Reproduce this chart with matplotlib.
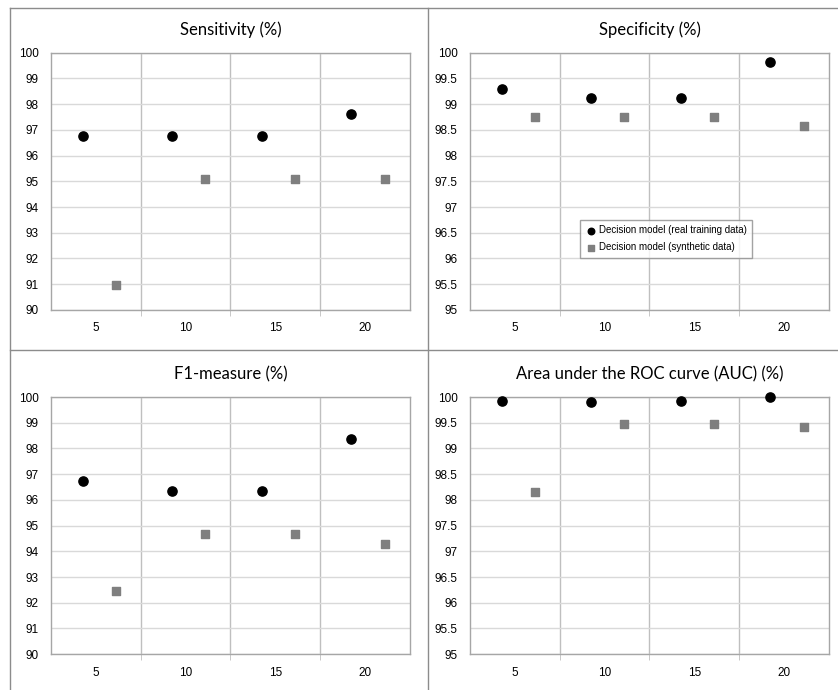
"""
plot.py - decision model scores (real vs synthetic training data), 2x2 panel.
"""

import matplotlib
matplotlib.use("Agg")
import matplotlib.pyplot as plt
from matplotlib.lines import Line2D

plt.rcParams["font.family"] = ["Liberation Sans", "DejaVu Sans"]


# ---------------------------------------------------------------------------
# Data
# ---------------------------------------------------------------------------

categories = ["5", "10", "15", "20"]

sens_real = [96.77, 96.77, 96.77, 97.60]
sens_synth = [90.97, 95.08, 95.08, 95.08]

spec_real = [99.29, 99.12, 99.12, 99.83]
spec_synth = [98.75, 98.75, 98.75, 98.58]

f1_real = [96.74, 96.34, 96.34, 98.37]
f1_synth = [92.46, 94.69, 94.69, 94.29]

auc_real = [99.92, 99.90, 99.92, 100.0]
auc_synth = [98.15, 99.48, 99.48, 99.41]

label_real = "Decision model (real training data)"
label_synth = "Decision model (synthetic data)"


# ---------------------------------------------------------------------------
# Panel
# ---------------------------------------------------------------------------

def panel(fig, rect, title, real, synth, ymin, ystep):
    ax = fig.add_axes(rect)
    xs = list(range(len(categories)))
    ax.scatter([x - 0.15 for x in xs], real, s=44, marker="o", color="black",
               zorder=3, label=label_real, clip_on=False)
    ax.scatter([x + 0.22 for x in xs], synth, s=38, marker="s", color="#7f7f7f",
               zorder=3, label=label_synth, clip_on=False)

    ax.set_xlim(-0.5, len(categories) - 0.5)
    ax.set_ylim(ymin, 100)
    n = int(round((100 - ymin) / ystep))
    yt = [ymin + i * ystep for i in range(n + 1)]
    ax.set_yticks(yt)
    ax.set_yticklabels([f"{v:g}" for v in yt])
    ax.set_xticks(xs)
    ax.set_xticklabels(categories)
    ax.set_xticks([x + 0.5 for x in xs[:-1]], minor=True)

    ax.tick_params(axis="both", which="major", length=0, labelsize=8.5, colors="black")
    ax.tick_params(axis="y", pad=9)
    ax.tick_params(axis="x", pad=9)
    ax.tick_params(axis="x", which="minor", length=4, direction="out", color="#bfbfbf")

    ax.grid(axis="y", which="major", color="#d9d9d9", linewidth=1)
    ax.grid(axis="x", which="minor", color="#bfbfbf", linewidth=1)
    ax.set_axisbelow(True)
    for sp in ax.spines.values():
        sp.set_color("#a6a6a6")
        sp.set_linewidth(1)

    ax.set_title(title, fontsize=12, fontfamily="Lato", pad=13)
    return ax


def main():
    fig = plt.figure(figsize=(8.38, 6.9), dpi=100)

    w, h = 0.428, 0.3725
    panel(fig, [0.061, 0.551, w, h], "Sensitivity (%)", sens_real, sens_synth, 90, 1)
    ax_spec = panel(fig, [0.561, 0.551, w, h], "Specificity (%)", spec_real, spec_synth, 95, 0.5)
    panel(fig, [0.061, 0.052, w, h], "F1-measure (%)", f1_real, f1_synth, 90, 1)
    panel(fig, [0.561, 0.052, w, h], "Area under the ROC curve (AUC) (%)", auc_real, auc_synth, 95, 0.5)

    leg = ax_spec.legend(loc="upper left", bbox_to_anchor=(0.293, 0.37), fancybox=False,
                         frameon=True, edgecolor="#8c8c8c", handletextpad=0.3,
                         handlelength=1.0, borderpad=0.6, labelspacing=0.7,
                         prop={"family": "Liberation Sans", "size": 7})
    leg.get_frame().set_linewidth(1)
    for hnd in leg.legend_handles:
        hnd.set_sizes([22])

    # panel frame lines
    c = "#8c8c8c"
    fig.add_artist(Line2D([10 / 838, 1], [1 - 8 / 690] * 2, color=c, lw=1))
    fig.add_artist(Line2D([10 / 838] * 2, [0, 1 - 8 / 690], color=c, lw=1))
    fig.add_artist(Line2D([428 / 838] * 2, [0, 1 - 8 / 690], color=c, lw=1))
    fig.add_artist(Line2D([10 / 838, 1], [1 - 350 / 690] * 2, color=c, lw=1))

    fig.savefig("out.png", dpi=100)
    plt.close(fig)


if __name__ == "__main__":
    main()
